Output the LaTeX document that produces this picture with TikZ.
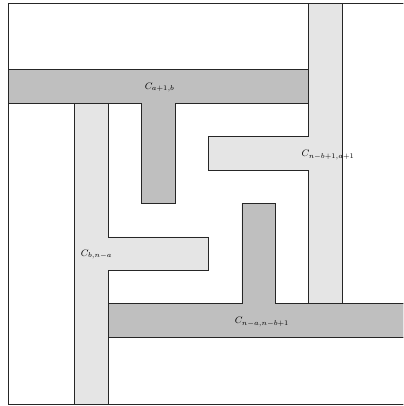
\documentclass[tikz,border=0pt]{standalone}
\begin{document}
\begin{tikzpicture}[x=1cm,y=1cm,
  edge/.style={draw=black!85, line width=0.6pt},
  darkT/.style={edge, fill=black!25},
  lightT/.style={edge, fill=black!10},
  lbl/.style={inner sep=1pt, font=\fontsize{8.3}{10}\selectfont}]
\useasboundingbox (-0.24,-0.06) rectangle (11.83,12.09);
\clip (-0.24,-0.06) rectangle (11.83,12.09);
\draw[edge] (0,0) rectangle (12,12);
% dark T top
\draw[darkT] (0,10) -- (9,10) -- (9,9) -- (5,9) -- (5,6) -- (4,6) -- (4,9) -- (0,9) -- cycle;
% light T right
\draw[lightT] (9,12) -- (10,12) -- (10,3) -- (9,3) -- (9,7) -- (6,7) -- (6,8) -- (9,8) -- cycle;
% light T left
\draw[lightT] (2,9) -- (3,9) -- (3,5) -- (6,5) -- (6,4) -- (3,4) -- (3,0) -- (2,0) -- cycle;
% dark T bottom
\draw[darkT] (3,3) -- (7,3) -- (7,6) -- (8,6) -- (8,3) -- (12,3) -- (12,2) -- (3,2) -- cycle;
\node[lbl] (l1) at (4.54,9.47) {$C_{a+1,b}$};
\node[lbl] (l2) at (9.58,7.45) {$C_{n-b+1,a+1}$};
\node[lbl] (l3) at (2.65,4.47) {$C_{b,n-a}$};
\node[lbl] (l4) at (7.6,2.45) {$C_{n-a,n-b+1}$};
\end{tikzpicture}
\end{document}
